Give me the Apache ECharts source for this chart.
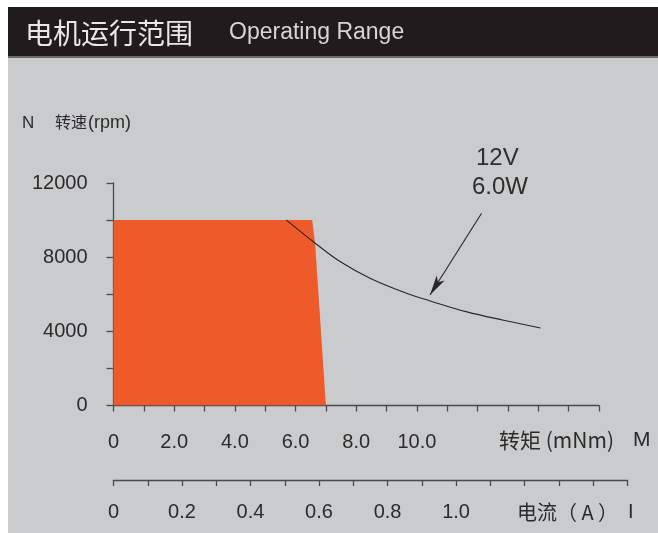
<!DOCTYPE html>
<html>
<head>
<meta charset="utf-8">
<script src="https://cdn.jsdelivr.net/npm/echarts@6/dist/echarts.min.js"></script>
<style>
html,body{margin:0;padding:0;background:#fff;}
#c{width:658px;height:533px;}
</style>
</head>
<body>
<div id="c"></div>
<script>
// ---- data ----
const rangeTorque = [0, 6.55, 6.65, 7.0];          // mNm, operating range outline
const rangeSpeed  = [10000, 10000, 8600, 0];        // rpm
const curveTorque = [5.70, 6.66, 7.48, 8.47, 9.68, 10.44, 11.65, 12.86, 14.07]; // 12V 6.0W curve
const curveSpeed  = [10000, 8740, 7750, 6850, 6040, 5640, 5050, 4600, 4180];
const arrowFrom = [12.13, 10370];
const arrowTo   = [10.43, 5960];
const annotation = ['12V', '6.0W'];
const speedLabels   = [0, 4000, 8000, 12000];
const torqueLabels  = ['0', '2.0', '4.0', '6.0', '8.0', '10.0'];   // at 0,2,4,6,8,10
const currentLabels = ['0', '0.2', '0.4', '0.6', '0.8', '1.0'];    // at 0,0.2,...,1.0
const titleCn = '电机运行范围';
const titleEn = 'Operating Range';
const speedName = ['N', '转速', '(rpm)'];
const torqueName = ['转矩 (mNm)', 'M'];
const currentName = ['电流（ A ）', 'I'];

const NUM_FONT = '"Liberation Sans", Arial, sans-serif';
const CJK_FONT = '"Noto Sans CJK SC", "Liberation Sans", sans-serif';
const AX = '#4a4a4a';
const TXT = '#2b2b2b';

const chart = echarts.init(document.getElementById('c'), null, {renderer: 'canvas'});

const rangeData = rangeTorque.map((t, i) => [t, rangeSpeed[i]]);
const curveData = curveTorque.map((t, i) => [t, curveSpeed[i]]);

const option = {
  backgroundColor: '#ffffff',
  animation: false,
  title: {
    left: 25, top: 19, padding: 0,
    text: '{a|' + titleCn + '}{b|' + titleEn + '}',
    textStyle: {
      fontWeight: 'normal',
      rich: {
        a: {fontSize: 28, color: '#e8e8e8', fontFamily: CJK_FONT, fontWeight: 'normal'},
        b: {fontSize: 23, color: '#d6d6d6', fontFamily: NUM_FONT, fontWeight: 'normal', padding: [0, 0, 0, 36]}
      }
    }
  },
  graphic: [
    {type: 'rect', z: -10, shape: {x: 8, y: 57, width: 650, height: 476}, style: {fill: '#cacbcd'}},
    {type: 'rect', z: -10, shape: {x: 8, y: 7, width: 650, height: 50}, style: {fill: '#201c1d'}},
    {type: 'rect', z: -9, shape: {x: 8, y: 56, width: 650, height: 2}, style: {fill: '#6a6869'}},
    {type: 'text', left: 22, top: 115, style: {text: speedName[0], fontSize: 17, fill: TXT, fontFamily: NUM_FONT}},
    {type: 'text', left: 55, top: 114, style: {text: speedName[1], fontSize: 16, fill: TXT, fontFamily: CJK_FONT}},
    {type: 'text', left: 88, top: 114, style: {text: speedName[2], fontSize: 18, fill: TXT, fontFamily: NUM_FONT}},
    {type: 'text', left: 499, top: 430, style: {text: torqueName[0], fontSize: 21, fill: TXT, fontFamily: CJK_FONT}},
    {type: 'text', left: 633, top: 430, style: {text: torqueName[1], fontSize: 21, fill: TXT, fontFamily: NUM_FONT}},
    {type: 'text', left: 517, top: 502, style: {text: currentName[0], fontSize: 20, fill: TXT, fontFamily: CJK_FONT}},
    {type: 'text', left: 628, top: 502, style: {text: currentName[1], fontSize: 20, fill: TXT, fontFamily: NUM_FONT}},
    {type: 'text', left: 476, top: 146, style: {text: annotation[0], fontSize: 24, fill: '#2e2e2e', fontFamily: NUM_FONT}},
    {type: 'text', left: 472, top: 175, style: {text: annotation[1], fontSize: 24, fill: '#2e2e2e', fontFamily: NUM_FONT}}
  ],
  grid: [
    {left: 113.5, right: 59, top: 183, bottom: 127.5},
    {left: 113.5, right: 30.7, top: 479, height: 1}
  ],
  xAxis: [
    {
      type: 'value', gridIndex: 0, min: 0, max: 16, interval: 1,
      axisLine: {show: true, lineStyle: {color: AX, width: 1.3}},
      axisTick: {show: true, length: 6, lineStyle: {color: AX, width: 1.3}},
      splitLine: {show: false},
      axisLabel: {
        margin: 27, fontSize: 20, color: TXT, fontFamily: NUM_FONT,
        formatter: v => {
          const r = Math.round(v);
          return (r % 2 === 0 && r / 2 < torqueLabels.length) ? torqueLabels[r / 2] : '';
        }
      }
    },
    {
      type: 'value', gridIndex: 1, min: 0, max: 1.5, interval: 0.1, position: 'bottom',
      axisLine: {show: true, onZero: false, lineStyle: {color: AX, width: 1.3}},
      axisTick: {show: true, length: 6, lineStyle: {color: AX, width: 1.3}},
      splitLine: {show: false},
      axisLabel: {
        margin: 22, fontSize: 20, color: TXT, fontFamily: NUM_FONT,
        formatter: v => {
          const r = Math.round(v * 10);
          return (r % 2 === 0 && r / 2 < currentLabels.length) ? currentLabels[r / 2] : '';
        }
      }
    }
  ],
  yAxis: [
    {
      type: 'value', gridIndex: 0, min: 0, max: 12000, interval: 2000,
      axisLine: {show: true, lineStyle: {color: AX, width: 1.3}},
      axisTick: {show: true, length: 7, lineStyle: {color: AX, width: 1.3}},
      splitLine: {show: false},
      axisLabel: {
        margin: 26, fontSize: 20, color: TXT, fontFamily: NUM_FONT,
        formatter: v => speedLabels.indexOf(Math.round(v)) >= 0 ? String(Math.round(v)) : ''
      }
    },
    {type: 'value', gridIndex: 1, show: false, min: 0, max: 1}
  ],
  series: [
    {
      type: 'line', xAxisIndex: 0, yAxisIndex: 0, data: rangeData,
      symbol: 'none', lineStyle: {width: 0}, smooth: false,
      areaStyle: {color: '#ef5a2a', opacity: 1}, z: 2
    },
    {
      type: 'line', xAxisIndex: 0, yAxisIndex: 0, data: curveData,
      symbol: 'none', smooth: 0.4, clip: false,
      lineStyle: {color: '#262626', width: 1.1}, z: 3,
      markLine: {
        silent: true, symbol: ['none', 'arrow'], symbolSize: [7, 20],
        label: {show: false},
        lineStyle: {color: '#262626', width: 1.1, type: 'solid'},
        data: [[{coord: arrowFrom}, {coord: arrowTo}]]
      }
    }
  ]
};
chart.setOption(option);
</script>
</body>
</html>
